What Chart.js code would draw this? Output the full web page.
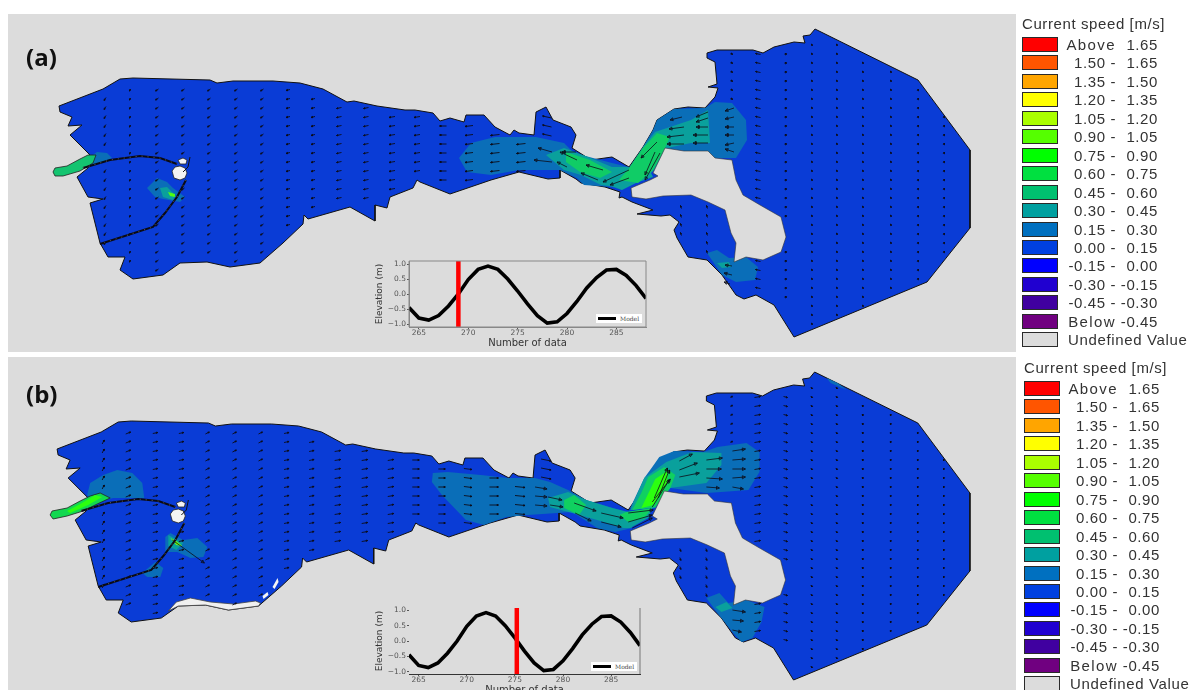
<!DOCTYPE html>
<html>
<head>
<meta charset="utf-8">
<title>Current speed</title>
<script src="https://cdn.jsdelivr.net/npm/chart.js@4"></script>
<style>
html, body { margin: 0; padding: 0; background: #fff; }
body { position: relative; width: 1190px; height: 690px; overflow: hidden; font-family: "Liberation Sans", sans-serif; }
canvas { filter: blur(.4px); }
.panel { position: absolute; left: 8px; width: 1008px; background: #dcdcdc; }
.tag { position: absolute; left: 26px; font: bold 24px "Open Sans", sans-serif; color: #111; }
.inset { position: absolute; left: 374px; width: 279px; height: 94px; }
.key { position: absolute; background: #fff; color: #444; font: 6px "DejaVu Serif", serif; height: 9px; line-height: 9px; width: 46px; }
.key i { position: absolute; left: 2px; top: 3px; width: 18px; height: 3px; background: #000; }
.key span { position: absolute; left: 24px; }
.legend { position: absolute; width: 172px; color: #333; font-size: 15px; letter-spacing: .6px; filter: blur(.3px); }
.legend .ttl { position: absolute; left: 0; top: 0; white-space: nowrap; font-size: 15px; }
.legend .sw { position: absolute; left: 0; width: 34px; height: 13px; border: 1.5px solid #2a2a2a; }
.legend .lo, .legend .hi { position: absolute; text-align: right; white-space: nowrap; }
.legend .lo { left: 30px; width: 64px; }
.legend .word { letter-spacing: 1.4px; }
.legend .hi { left: 90px; width: 46px; }
.legend .un { position: absolute; left: 46px; white-space: nowrap; letter-spacing: .65px; }
</style>
</head>
<body>
<div class="panel" style="top:14px;height:338px"><canvas id="mapA"></canvas></div>
<div class="panel" style="top:357px;height:333px"><canvas id="mapB"></canvas></div>
<div class="tag" style="top:40px">(a)</div>
<div class="tag" style="top:377px">(b)</div>
<div class="inset" style="top:255px"><canvas id="tideA"></canvas></div>
<div class="inset" style="top:602px"><canvas id="tideB"></canvas></div>
<div class="key" style="left:596px;top:314px"><i></i><span>Model</span></div>
<div class="key" style="left:591px;top:662px"><i></i><span>Model</span></div>
<div class="legend" id="legA" style="left:1022px;top:15px"></div>
<div class="legend" id="legB" style="left:1024px;top:359px"></div>
<script>
// map outline, land and speed patches, in panel (a) map units
const shoreline = [[59,106],[103,89],[120,79],[133,78],[210,80],[217,83],[233,81],[273,81],[300,83],[323,89],[347,102],[354,101],[377,106],[405,110],[415,110],[433,113],[440,121],[450,118],[464,122],[466,115],[484,115],[495,127],[510,135],[514,130],[519,133],[534,135],[536,112],[546,107],[553,120],[571,127],[576,135],[572,148],[591,160],[612,157],[629,167],[643,147],[653,130],[657,120],[674,109],[688,107],[705,108],[715,97],[718,88],[708,87],[717,84],[715,62],[707,58],[707,53],[717,50],[753,50],[763,53],[774,47],[794,42],[805,43],[803,36],[810,35],[815,29],[918,80],[970,150],[970,228],[927,282],[794,337],[774,305],[756,295],[744,299],[736,295],[722,275],[707,260],[688,257],[677,238],[674,230],[679,222],[670,215],[661,216],[637,214],[653,210],[632,202],[622,197],[619,198],[620,192],[605,187],[581,183],[576,179],[560,170],[560,178],[548,179],[519,172],[491,180],[450,194],[440,190],[420,182],[417,180],[413,188],[390,197],[387,208],[375,205],[375,221],[350,207],[308,219],[304,215],[303,224],[283,243],[260,263],[230,267],[207,262],[180,263],[163,275],[133,279],[120,270],[125,257],[108,257],[100,243],[90,203],[103,199],[88,197],[77,177],[88,168],[90,155],[70,135],[82,125],[68,126],[72,117],[60,112],[59,106]];
const innerLand = [[631,188],[650,180],[658,176],[653,173],[665,148],[684,151],[708,151],[715,158],[732,160],[736,180],[743,195],[760,205],[781,217],[786,237],[781,252],[763,260],[746,257],[734,262],[736,243],[731,233],[725,210],[708,202],[691,195],[663,196],[646,199],[632,197],[631,188]];
const harbourPond = [[172,171],[175,167],[180,166],[185,168],[187,173],[185,178],[180,180],[174,178],[172,171]];
const harbourIsle = [[178,160],[183,158],[187,160],[186,164],[180,164],[178,160]];
const breakwaterN = [[83,168],[110,160],[140,156],[160,158],[177,164]];
const breakwaterS = [[186,180],[177,197],[165,213],[153,227],[100,244]];
const breakwaterHook = [[190,157],[188,167],[183,172]];

const patchesA = [
  ["#0a6eb8", [[459,158],[471,143],[495,137],[536,137],[564,143],[574,153],[612,163],[629,167],[622,190],[612,187],[584,185],[577,178],[560,170],[519,170],[491,175],[467,172]]],
  ["#0a6eb8", [[657,120],[674,109],[705,108],[715,102],[732,103],[746,120],[747,140],[736,158],[715,158],[707,151],[684,151],[665,148],[643,147],[653,130]]],
  ["#0a6eb8", [[707,253],[717,250],[729,258],[746,257],[758,267],[755,280],[736,282],[722,275]]],
  ["#0a6eb8", [[90,157],[97,152],[107,153],[112,158],[100,163],[92,166]]],
  ["#0a6eb8", [[147,188],[157,178],[167,182],[173,188],[185,197],[180,202],[163,199],[155,197]]],
  ["#0aa09c", [[546,155],[564,148],[588,157],[612,167],[629,167],[619,187],[601,185],[581,175],[564,170]]],
  ["#0aa09c", [[655,132],[691,120],[708,110],[710,143],[691,143],[667,148],[657,167],[651,173],[653,177],[636,183],[622,190],[612,186],[629,168],[643,147]]],
  ["#0aa09c", [[717,263],[729,262],[731,267],[722,268]]],
  ["#0aa09c", [[160,188],[167,187],[175,195],[173,200],[163,197]]],
  ["#10cc66", [[566,152],[590,160],[612,172],[600,178],[580,172],[566,162]]],
  ["#10cc66", [[657,133],[670,137],[665,148],[653,170],[638,183],[619,180],[629,168],[643,148]]],
  ["#4fff10", [[168,192],[175,194],[175,197],[170,196]]]
];
const spurA = [[53,172],[55,168],[67,166],[80,159],[88,155],[96,155],[93,163],[80,171],[63,176],[55,176],[53,172]];

const patchesB = [
  ["#0a6eb8", [[434,130],[449,129],[482,132],[509,135],[536,135],[551,139],[569,147],[587,157],[627,169],[633,185],[616,189],[598,185],[573,169],[558,170],[529,172],[507,174],[485,182],[467,177],[443,152],[433,139]]],
  ["#0a6eb8", [[653,124],[660,114],[675,108],[704,109],[718,104],[747,100],[760,109],[760,129],[749,147],[722,149],[707,150],[671,145],[645,165],[631,165],[645,135]]],
  ["#0a6eb8", [[707,255],[720,250],[729,260],[747,257],[765,264],[762,279],[753,295],[742,299],[733,289],[718,270]]],
  ["#0a6eb8", [[89,152],[92,140],[105,132],[119,127],[134,130],[144,140],[146,155],[115,155],[95,160]]],
  ["#0a6eb8", [[167,194],[172,190],[185,197],[199,195],[209,204],[205,214],[192,215],[179,209],[167,209]]],
  ["#0a6eb8", [[144,230],[157,219],[165,225],[162,234],[149,234]]],
  ["#0a6eb8", [[827,35],[838,40],[847,47],[831,40]]],
  ["#0aa09c", [[549,155],[569,149],[587,157],[613,165],[629,169],[653,165],[649,175],[631,185],[624,185],[598,177],[573,170],[551,164]]],
  ["#0aa09c", [[667,119],[693,109],[722,110],[722,122],[707,140],[671,145],[656,165],[631,167],[645,135]]],
  ["#0aa09c", [[716,264],[727,259],[733,265],[722,269]]],
  ["#0aa09c", [[170,192],[185,200],[178,207],[170,203]]],
  ["#10d060", [[565,157],[575,152],[587,162],[580,172],[565,165]]],
  ["#10d060", [[627,169],[653,165],[645,175],[629,179],[620,172]]],
  ["#10d060", [[649,134],[665,124],[676,132],[671,145],[656,164],[633,167],[642,150]]],
  ["#2cff10", [[656,136],[668,128],[668,140],[654,162],[642,165]]],
  ["#6cff10", [[172,195],[178,198],[184,203],[178,202]]]
];
const spurB = [[52,172],[54,168],[69,165],[82,158],[92,153],[102,150],[112,155],[99,161],[85,168],[69,173],[55,176],[52,172]];
const spurBInner = [[69,168],[82,161],[97,152],[104,154],[90,162],[72,170]];
const dryFlatB = [[170,268],[178,259],[192,255],[212,259],[235,261],[257,258],[262,260],[260,263],[230,267],[207,262],[180,263],[170,268]];
const dryBitsB = [[[264,253],[269,249],[270,252],[265,256]], [[274,244],[279,235],[280,239],[276,246]]];

// current vectors on the model grid
const gridY = [45,54,63,72,81,90,99,108,117,126,135,144,153,162,171,180,189,198,207,216,225,234,243,252,261,270,279,288,297,306,315,324,333];
const colX = [105,130,157,183,209,236,262,288,313,339,366,392,417,443,469,495,521,547,681,707,732,758,786,812,837,863,891,918,944];
const colSpans = [[[99,150],[171,243]],[[90,261]],[[90,270]],[[90,153],[189,252]],[[90,252]],[[90,261]],[[90,252]],[[90,225]],[[99,207]],[[108,198]],[[108,198]],[[117,189]],[[117,171]],[[126,180]],[[126,180]],[[135,171]],[[144,171]],[[117,135]],[[207,234]],[[207,252]],[[54,99]],[[54,198],[261,288]],[[54,216],[252,297]],[[45,324]],[[45,315]],[[63,306]],[[72,288]],[[90,279]],[[117,252]]];
const colVecA = [[-2,3],[-2,2],[-3,2],[-3,2],[-3,2],[-3,2],[-3,2],[-4,1],[-4,1],[-5,1],[-5,1],[-6,1],[-6,1],[-7,0],[-8,1],[-9,1],[-9,1],[-9,-2],[-1,-3],[-1,-3],[-2,-2],[-5,-1],[-2,-1],[-1,-2],[-1,-2],[-1,-2],[-1,-2],[0,-2],[0,-2]];
const colVecB = [[2,-4],[5,-2],[5,-1],[5,-1],[4,-2],[4,-2],[4,-2],[5,-1],[5,-1],[6,-1],[6,-1],[6,-1],[7,0],[7,0],[8,1],[9,0],[10,1],[10,2],[1,3],[1,3],[2,-2],[6,-1],[4,1],[2,1],[2,1],[0,2],[0,2],[0,2],[0,2]];
// x, y, dx, dy of the long arrows in the strait
const longA = [[576,152,-14,0],[577,160,-17,-8],[567,167,-10,-5],[603,170,-17,-5],[598,180,-17,-7],[629,170,-26,12],[629,178,-19,7],[657,142,-16,16],[655,152,-10,23],[660,153,-15,27],[552,152,-14,-4],[552,162,-18,-2],[682,117,-12,3],[708,112,-12,5],[708,118,-12,4],[684,127,-15,2],[708,127,-12,0],[684,135,-17,2],[708,135,-15,0],[684,144,-17,0],[708,143,-15,0],[734,108,-9,3],[734,117,-9,2],[734,127,-9,0],[734,135,-9,0],[734,143,-9,2],[734,152,-9,-3],[732,266,-7,-1],[732,275,-8,-2],[730,284,-6,-2]];
const longB = [[549,154,14,3],[551,162,13,2],[575,160,22,8],[576,170,16,8],[602,170,22,5],[602,179,20,5],[629,170,25,-3],[629,179,24,-7],[633,185,20,-10],[655,155,13,-30],[659,155,11,-28],[653,159,18,-23],[653,164,17,-27],[680,127,18,-7],[680,118,13,-7],[680,134,20,-4],[707,117,16,-2],[707,126,15,0],[707,135,16,1],[707,144,13,1],[733,108,13,-2],[733,117,13,-1],[733,126,13,0],[733,135,13,-1],[733,144,11,2],[733,267,13,2],[733,277,11,1],[733,287,9,2],[174,197,32,23],[536,144,12,2],[536,153,12,1],[536,162,12,1]];

// tide gauge curve
const tideX = [264,265,266,267,268,269,270,271,272,273,274,275,276,277,278,279,280,281,282,283,284,285,286,287,288];
const tideY = [-0.45,-0.8,-0.87,-0.72,-0.4,0,0.48,0.82,0.93,0.82,0.5,0.1,-0.33,-0.72,-0.97,-0.93,-0.65,-0.25,0.2,0.55,0.8,0.82,0.62,0.28,-0.15];

const legendColors = ["#ff0000","#ff5500","#ffa500","#ffff00","#aaff00","#55ff00","#00ff00","#00e040","#00c070","#00a0a0","#0070c0","#0040e0","#0000ff","#2000d0","#4000a0","#700080","#dcdcdc"];
const legendLow = ["Above","1.50 -","1.35 -","1.20 -","1.05 -","0.90 -","0.75 -","0.60 -","0.45 -","0.30 -","0.15 -","0.00 -","-0.15 -","-0.30 -","-0.45 -","Below"];
const legendHigh = ["1.65","1.65","1.50","1.35","1.20","1.05","0.90","0.75","0.60","0.45","0.30","0.15","0.00","-0.15","-0.30","-0.45"];

const toPts = list => list.map(p => ({x: p[0], y: p[1]}));

function area(pts, color, border, bw) {
    return {data: toPts(pts), showLine: true, fill: 'shape', backgroundColor: color,
        borderColor: border || color, borderWidth: bw || 0, pointRadius: 0, tension: 0};
}

function line(pts, color, width, dash) {
    return {data: toPts(pts), showLine: true, fill: false, borderColor: color,
        borderWidth: width, borderDash: dash || [], pointRadius: 0, tension: 0};
}

// one polyline with gaps holding all arrows of a list
function arrowLine(arrows, head, width) {
    const pts = [];
    arrows.forEach(a => {
        const [x, y, dx, dy] = a;
        const len = Math.hypot(dx, dy) || 1;
        const ux = dx / len, uy = dy / len;
        const tx = x + dx, ty = y + dy;
        pts.push({x, y}, {x: tx, y: ty},
            {x: tx - head * ux - head * .5 * uy, y: ty - head * uy + head * .5 * ux},
            {x: tx - head * ux + head * .5 * uy, y: ty - head * uy - head * .5 * ux},
            {x: tx, y: ty}, {x: NaN, y: NaN});
    });
    return {data: pts, showLine: true, fill: false, spanGaps: false, borderColor: '#0c0c18',
        borderWidth: width, pointRadius: 0, tension: 0};
}

function gridArrows(vecs) {
    const out = [];
    colX.forEach((x, i) => {
        const [u, v] = vecs[i];
        gridY.forEach(y => {
            if (colSpans[i].some(s => y >= s[0] && y <= s[1])) out.push([x - u / 2, y - v / 2, u, v]);
        });
    });
    return out;
}

function drawMap(id, xMin, xMax, yMin, yMax, sets) {
    sets.forEach((s, i) => { s.order = 1000 - i; });
    return new Chart(document.getElementById(id), {
        type: 'scatter',
        data: {datasets: sets},
        options: {
            responsive: true, maintainAspectRatio: false, animation: false, events: [],
            layout: {padding: 0},
            plugins: {legend: {display: false}, tooltip: {enabled: false}},
            scales: {
                x: {type: 'linear', display: false, min: xMin, max: xMax},
                y: {type: 'linear', display: false, min: yMin, max: yMax, reverse: true}
            }
        }
    });
}

const harbour = () => [
    area(harbourPond, '#f4f4f4', '#222', .8),
    area(harbourIsle, '#f4f4f4', '#222', .8),
    line(breakwaterN, '#0a0a14', 2),
    line(breakwaterN, '#9a9a9a', .6, [1, 5]),
    line(breakwaterS, '#0a0a14', 2),
    line(breakwaterS, '#9a9a9a', .6, [1, 5]),
    line(breakwaterHook, '#111', 1)
];

drawMap('mapA', 8, 1016, 14, 352, [
    area(shoreline, '#0a3cd6', '#111', 1),
    ...patchesA.map(p => area(p[1], p[0])),
    area(spurA, '#14c470', '#222', .8),
    area(innerLand, '#dcdcdc', '#333', .6),
    ...harbour(),
    arrowLine(gridArrows(colVecA), 1.4, .9),
    arrowLine(longA, 3, .8)
]);

drawMap('mapB', 10, 1016, 14, 347, [
    area(shoreline, '#0a3cd6', '#111', 1),
    ...patchesB.map(p => area(p[1], p[0])),
    area(spurB, '#12d850', '#222', .8),
    area(spurBInner, '#2cff10'),
    area(innerLand, '#dcdcdc', '#333', .6),
    area(dryFlatB, '#f0f0f0', '#444', .8),
    ...dryBitsB.map(p => area(p, '#f4f4f4')),
    ...harbour(),
    arrowLine(gridArrows(colVecB), 1.4, .9),
    arrowLine(longB, 3, .8)
]);

const framePlugin = {
    id: 'frame',
    afterDatasetsDraw(chart, args, opts) {
        const {ctx, chartArea: a} = chart;
        ctx.save();
        ctx.strokeStyle = '#888';
        ctx.lineWidth = 1;
        ctx.beginPath();
        if (opts.box) { ctx.rect(a.left, a.top, a.right - a.left, a.bottom - a.top); }
        else {
            ctx.moveTo(a.right, a.top); ctx.lineTo(a.right, a.bottom);
            ctx.strokeStyle = '#777';
        }
        ctx.stroke();
        ctx.restore();
    }
};

function drawTide(id, mark, yMargin, box, rightPad) {
    const tide = tideX.map((x, i) => ({x, y: tideY[i]}));
    return new Chart(document.getElementById(id), {
        type: 'scatter',
        plugins: [framePlugin],
        data: {datasets: [
            {data: tide, showLine: true, borderColor: '#000', borderWidth: 3.6, pointRadius: 0, tension: 0, order: 1},
            {data: [{x: mark, y: -yMargin}, {x: mark, y: yMargin}], showLine: true, borderColor: '#ff0000', borderWidth: 4.5, pointRadius: 0, order: 0}
        ]},
        options: {
            responsive: true, maintainAspectRatio: false, animation: false, events: [],
            layout: {padding: {top: 6, right: rightPad}},
            plugins: {legend: {display: false}, tooltip: {enabled: false}, frame: {box}},
            scales: {
                x: {
                    type: 'linear', min: 264, max: 288,
                    afterFit(s) { s.height = 22; },
                    grid: {drawOnChartArea: false, tickLength: 2, tickColor: '#555'},
                    border: {color: box ? '#888' : '#333'},
                    ticks: {stepSize: 5, includeBounds: false, maxRotation: 0, padding: 0, color: '#555', font: {family: 'DejaVu Sans', size: 7.5}},
                    title: {display: true, text: 'Number of data', color: '#333', padding: 0, font: {family: 'DejaVu Sans', size: 10}}
                },
                y: {
                    type: 'linear', min: -yMargin, max: yMargin,
                    afterFit(s) { s.width = 35; },
                    grid: {drawOnChartArea: false, tickLength: 2, tickColor: '#555'},
                    border: {display: box, color: '#888'},
                    ticks: {stepSize: .5, includeBounds: false, padding: 1, color: '#555', font: {family: 'DejaVu Sans', size: 7.5},
                        callback: v => (v < 0 ? '\u2212' : '') + Math.abs(v).toFixed(1)},
                    title: {display: true, text: 'Elevation (m)', color: '#333', padding: 0, font: {family: 'DejaVu Sans', size: 9}}
                }
            }
        }
    });
}

drawTide('tideA', 269, 1.1, true, 7);
drawTide('tideB', 275.2, 1.08, false, 13);

function drawLegend(id) {
    const box = document.getElementById(id);
    let html = '<div class="ttl">Current speed [m/s]</div>';
    legendColors.forEach((c, i) => {
        const top = 22 + i * 18.45;
        html += '<div class="sw" style="top:' + top + 'px;background:' + c + '"></div>';
        if (i < legendLow.length) {
            const word = /[a-z]/.test(legendLow[i]) ? ' word' : '';
            html += '<div class="lo' + word + '" style="top:' + (top - 1) + 'px">' + legendLow[i] + '</div>';
            html += '<div class="hi" style="top:' + (top - 1) + 'px">' + legendHigh[i] + '</div>';
        } else {
            html += '<div class="un" style="top:' + (top - 1) + 'px">Undefined Value</div>';
        }
    });
    box.innerHTML = html;
}
drawLegend('legA');
drawLegend('legB');
</script>
</body>
</html>
